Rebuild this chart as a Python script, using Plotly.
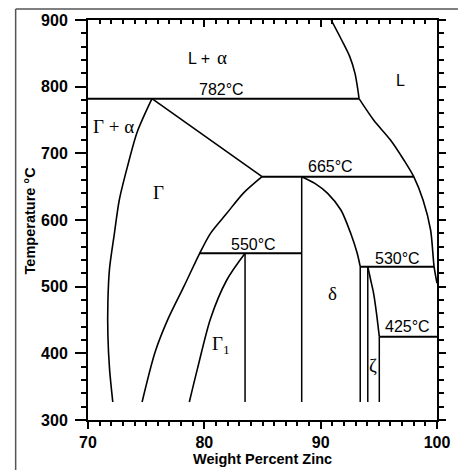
import plotly.graph_objects as go

# ---- Fe–Zn phase boundaries: composition (wt% Zn) and temperature (°C) ----
liq_upper_x = [90.9, 91.8, 92.5, 92.95, 93.2, 93.3]
liq_upper_t = [900, 870, 845, 820, 795, 782]

liq_lower_x = [93.3, 94.55, 96.0, 97.15, 98.0, 98.8, 99.45, 99.75, 100.0]
liq_lower_t = [782, 750, 720, 690, 665, 630, 585, 530, 505]

gamma_alpha_x = [75.5, 74.23, 73.39, 72.69, 72.27, 71.85, 71.71, 71.71, 71.85, 72.13]
gamma_alpha_t = [782, 732, 680, 630, 580, 527, 477, 427, 377, 327]

gamma_top_x = [75.5, 84.96]
gamma_top_t = [782, 665]

gamma_right_x = [84.96, 83.34, 81.93, 80.53, 79.6, 78.29, 76.89, 75.77, 74.65]
gamma_right_t = [665, 640, 610, 580, 550, 502, 452, 402, 327]

gamma1_left_x = [83.5, 81.93, 80.53, 79.41, 78.71]
gamma1_left_t = [550, 510, 452, 377, 327]

delta_right_x = [88.37, 89.5, 90.6, 91.74, 92.58, 93.14, 93.4]
delta_right_t = [665, 655, 640, 615, 580, 550, 530]

zeta_right_x = [94.05, 94.3, 94.55, 94.8, 95.04]
zeta_right_t = [530, 510, 490, 460, 425]

# vertical phase boundaries: composition, top and bottom temperature
vert_x = [83.5, 88.37, 93.4, 94.05, 95.04]
vert_top = [550, 665, 530, 530, 425]
vert_bottom = [327, 327, 327, 327, 327]

# invariant isotherms: temperature, start and end composition
iso_t = [782, 665, 550, 530, 425]
iso_x0 = [70.0, 84.96, 79.6, 93.4, 95.04]
iso_x1 = [93.3, 98.0, 88.37, 99.75, 100.0]

# isotherm labels
iso_label_x = [81.47, 90.87, 84.24, 96.57, 97.48]
iso_label_t = [796, 681, 563, 543, 440]

# phase-field labels (sans-serif and Greek/serif groups)
sans_text = ["L +", "L"]
sans_x = [79.5, 96.84]
sans_t = [842, 810]

greek_text = ["α", "Γ + α", "Γ", "δ", "ζ", "Γ<sub>1</sub>"]
greek_x = [81.5, 72.18, 76.05, 90.98, 94.54, 81.4]
greek_t = [844, 740, 642, 490, 382, 413]

X_RANGE = [70, 100]
Y_RANGE = [300, 900]

fig = go.Figure()


def add_line(x, t, shape="linear", width=1.6):
    fig.add_trace(go.Scatter(
        x=x, y=t, mode="lines",
        line=dict(color="black", width=width, shape=shape, smoothing=0.8),
        hoverinfo="skip", showlegend=False,
    ))


# curved boundaries
for bx, bt in [
    (liq_upper_x, liq_upper_t),
    (liq_lower_x, liq_lower_t),
    (gamma_alpha_x, gamma_alpha_t),
    (gamma_right_x, gamma_right_t),
    (gamma1_left_x, gamma1_left_t),
    (delta_right_x, delta_right_t),
    (zeta_right_x, zeta_right_t),
]:
    add_line(bx, bt, shape="spline")

add_line(gamma_top_x, gamma_top_t)

for vx, vt, vb in zip(vert_x, vert_top, vert_bottom):
    add_line([vx, vx], [vt, vb], width=1.5)

for t, x0, x1 in zip(iso_t, iso_x0, iso_x1):
    add_line([x0, x1], [t, t], width=2.0)

# empty traces so the mirrored top/right axes are drawn
fig.add_trace(go.Scatter(x=[], y=[], xaxis="x2", yaxis="y", showlegend=False))
fig.add_trace(go.Scatter(x=[], y=[], xaxis="x", yaxis="y2", showlegend=False))

SERIF_FONT = "'Liberation Serif', 'DejaVu Serif', serif"

annotations = []
for t, lx, lt in zip(iso_t, iso_label_x, iso_label_t):
    annotations.append(dict(
        x=lx, y=lt, xref="x", yref="y", text=f"{t}°C", showarrow=False,
        font=dict(size=16, color="black"),
    ))
for txt, px, pt in zip(sans_text, sans_x, sans_t):
    annotations.append(dict(
        x=px, y=pt, xref="x", yref="y", text=txt, showarrow=False,
        font=dict(size=16, color="black"),
    ))
for txt, px, pt in zip(greek_text, greek_x, greek_t):
    annotations.append(dict(
        x=px, y=pt, xref="x", yref="y", text=txt, showarrow=False,
        font=dict(size=19, color="black", family=SERIF_FONT),
    ))

annotations.append(dict(
    x=0.5, y=-0.097, xref="paper", yref="paper", text="Weight Percent Zinc",
    showarrow=False, xanchor="center", yanchor="middle",
    font=dict(size=14.5, color="black", weight="bold"),
))
annotations.append(dict(
    x=-0.165, y=0.5, xref="paper", yref="paper", text="Temperature °C",
    textangle=-90, showarrow=False, xanchor="center", yanchor="middle",
    font=dict(size=14.5, color="black", weight="bold"),
))

axis_common = dict(
    showgrid=False, zeroline=False, showline=True,
    linecolor="black", linewidth=2, tickcolor="black", tickwidth=1.5,
)
tickfont = dict(size=16, color="black", weight="bold")

fig.update_layout(
    width=462, height=470,
    margin=dict(l=88, r=17, t=20, b=50),
    paper_bgcolor="white", plot_bgcolor="white",
    font=dict(family="'Liberation Sans', Arial, sans-serif", color="black"),
    xaxis=dict(
        range=X_RANGE, tickvals=[70, 80, 90, 100], ticks="outside", ticklen=7,
        minor=dict(dtick=1, ticks="outside", ticklen=4, tickcolor="black", tickwidth=1.5),
        tickfont=tickfont, ticklabelstandoff=0, **axis_common,
    ),
    xaxis2=dict(
        range=X_RANGE, overlaying="x", side="top", anchor="y",
        tickvals=[70, 80, 90, 100], ticks="inside", ticklen=7,
        minor=dict(dtick=1, ticks="inside", ticklen=4, tickcolor="black", tickwidth=1.5),
        showticklabels=False, **axis_common,
    ),
    yaxis=dict(
        range=Y_RANGE, tickvals=[300, 400, 500, 600, 700, 800, 900], ticks="outside",
        ticklen=11,
        minor=dict(dtick=20, ticks="outside", ticklen=5, tickcolor="black", tickwidth=1.5),
        tickfont=tickfont, ticklabelstandoff=4, **axis_common,
    ),
    yaxis2=dict(
        range=Y_RANGE, overlaying="y", side="right", anchor="x",
        tickvals=[300, 400, 500, 600, 700, 800, 900], ticks="outside", ticklen=7,
        minor=dict(dtick=20, ticks="outside", ticklen=5, tickcolor="black", tickwidth=1.5),
        showticklabels=False, **axis_common,
    ),
    annotations=annotations,
    shapes=[
        # page border (top and left edges)
        dict(type="line", xref="paper", yref="paper", x0=-0.2073, x1=1.06,
             y0=1.0275, y1=1.0275, line=dict(color="#555555", width=1.5)),
        dict(type="line", xref="paper", yref="paper", x0=-0.2073, x1=-0.2073,
             y0=1.0275, y1=-0.14, line=dict(color="#555555", width=1.5)),
    ],
)

fig.write_html("out.html")
